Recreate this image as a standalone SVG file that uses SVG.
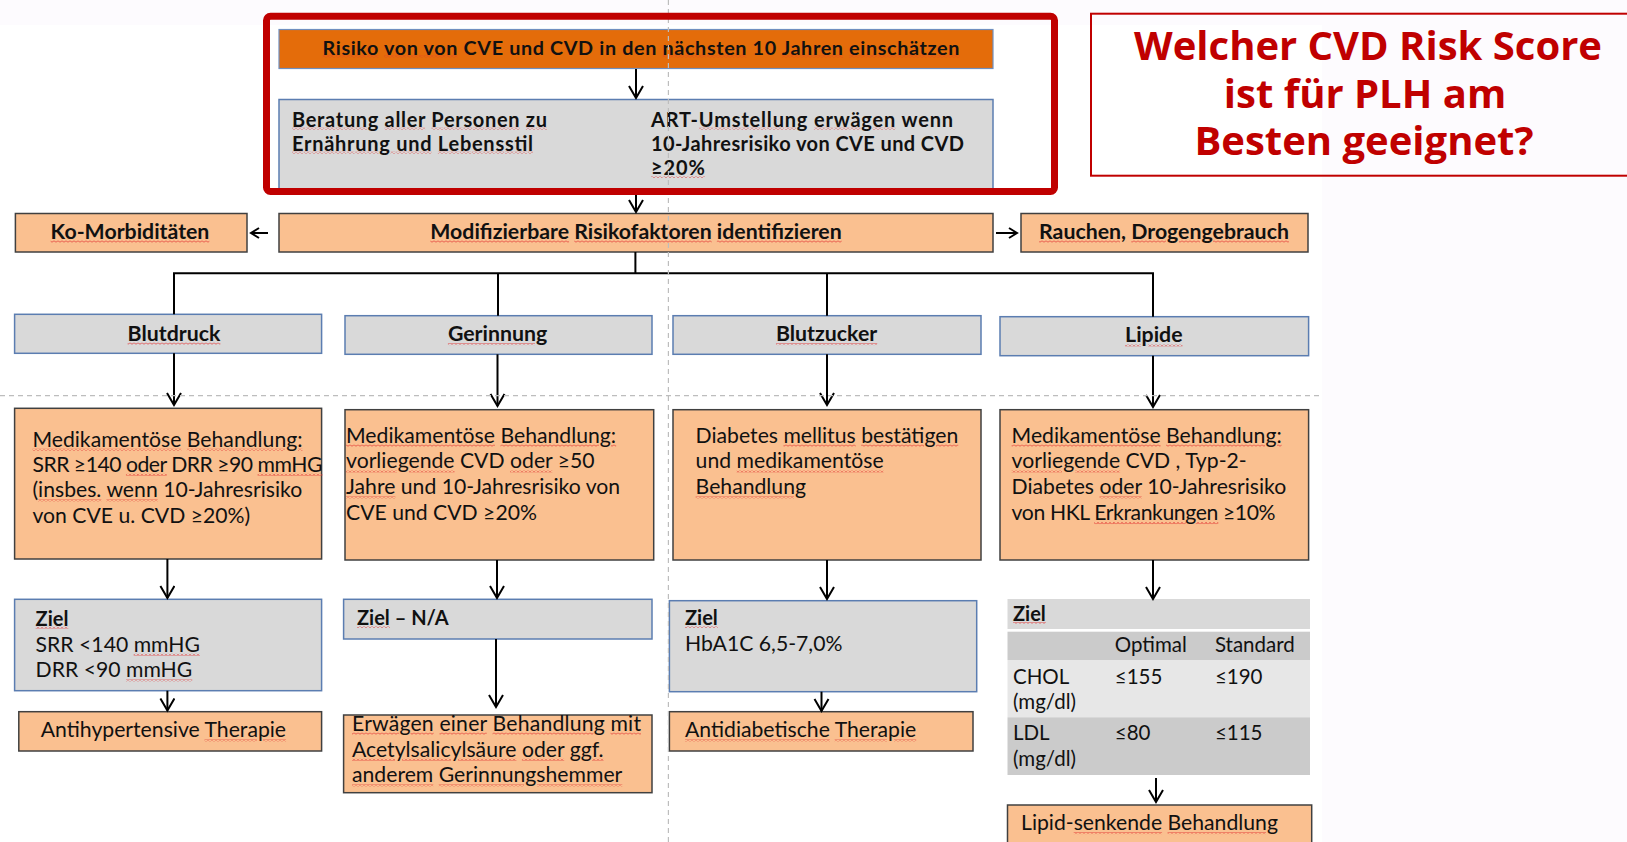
<svg xmlns="http://www.w3.org/2000/svg" width="1627" height="842" viewBox="0 0 1627 842">
<defs>
<pattern id="sq" patternUnits="userSpaceOnUse" width="4" height="3">
<path d="M0,2.6 L2,0.4 L4,2.6" stroke="#E23232" stroke-width="0.9" fill="none"/>
</pattern>
<style>
.t{font-family:Lato,"Liberation Sans",sans-serif;font-size:21.2px;fill:#111}
.tt{font-family:Lato,"Liberation Sans",sans-serif;font-size:20.5px;fill:#111}
.b{font-family:Lato,"Liberation Sans",sans-serif;font-weight:bold;fill:#111}
.h{font-family:"Open Sans","Noto Sans",sans-serif;font-weight:bold;font-size:40px;fill:#C00000}
.w{fill:url(#sq);text-decoration:underline;text-decoration-thickness:3px;text-underline-offset:2px}
.k{fill:#111}
.gray{fill:#D9D9D9;stroke:#5B7DB1;stroke-width:1.5}
.peach{fill:#FAC090;stroke:#404040;stroke-width:1.5}
.con line,.con path{stroke:#000;stroke-width:2;fill:none}
.dash{stroke:#BDBDBD;stroke-width:1.2;stroke-dasharray:5,4;fill:none}
</style>
<marker id="ah" markerUnits="userSpaceOnUse" markerWidth="18" markerHeight="18" refX="13" refY="8" orient="auto">
<path d="M1,1 L13,8 L1,15" stroke="#000" stroke-width="2" fill="none"/>
</marker>
<marker id="ahs" markerUnits="userSpaceOnUse" markerWidth="14" markerHeight="14" refX="9" refY="6" orient="auto">
<path d="M1,1 L9,6 L1,11" stroke="#000" stroke-width="2" fill="none"/>
</marker>
</defs>
<rect x="0" y="0" width="1627" height="842" fill="#FDFBFE"/>
<rect x="0" y="25" width="1322" height="817" fill="#FFFFFF"/>

<g id="n-risiko">
<rect x="279" y="29.5" width="714" height="39" fill="#E46C0A" stroke="#6F8FC0" stroke-width="1.2"/>
<text class="b" x="641" y="54.5" font-size="19.8" text-anchor="middle" textLength="637"><tspan class="w"><tspan class="k">Risiko</tspan></tspan> <tspan class="w"><tspan class="k">von von</tspan></tspan> CVE und CVD in den <tspan class="w"><tspan class="k">nächsten</tspan></tspan> 10 <tspan class="w"><tspan class="k">Jahren</tspan></tspan> <tspan class="w"><tspan class="k">einschätzen</tspan></tspan></text>
</g>

<g id="n-beratung">
<rect x="279" y="99.5" width="714" height="93" class="gray" stroke="#6F8FC0"/>
<text class="b" font-size="20" x="292" y="126.7" textLength="255"><tspan class="w"><tspan class="k">Beratung</tspan></tspan> <tspan class="w"><tspan class="k">aller</tspan></tspan> <tspan class="w"><tspan class="k">Personen</tspan></tspan> <tspan class="w"><tspan class="k">zu</tspan></tspan></text>
<text class="b" font-size="20" x="292" y="150.7" textLength="241"><tspan class="w"><tspan class="k">Ernährung und</tspan></tspan> <tspan class="w"><tspan class="k">Lebensstil</tspan></tspan></text>
<text class="b" font-size="20" x="651" y="126.7" textLength="302">ART-<tspan class="w"><tspan class="k">Umstellung</tspan></tspan> <tspan class="w"><tspan class="k">erwägen</tspan></tspan> wenn</text>
<text class="b" font-size="20" x="651" y="150.7" textLength="313">10-Jahresrisiko von CVE und CVD</text>
<text class="b" font-size="20" x="651" y="175" textLength="54"><tspan class="w"><tspan class="k">≥20%</tspan></tspan></text>
</g>

<g id="n-frage">
<rect x="1091" y="13.7" width="545" height="162" fill="none" stroke="#C00000" stroke-width="2"/>
<text class="h" text-anchor="middle" x="1368" y="60">Welcher CVD Risk Score</text>
<text class="h" text-anchor="middle" x="1365" y="107.7">ist für PLH am</text>
<text class="h" text-anchor="middle" x="1364" y="155">Besten geeignet?</text>
</g>

<g id="n-komorb">
<rect x="15.4" y="213.5" width="231.6" height="38.5" class="peach"/>
<text class="b" font-size="21.3" x="130" y="238.6" text-anchor="middle"><tspan class="w"><tspan class="k">Ko-Morbiditäten</tspan></tspan></text>
</g>
<g id="n-modif">
<rect x="279" y="213.5" width="714" height="38.5" class="peach"/>
<text class="b" font-size="21.3" x="636" y="238.6" text-anchor="middle"><tspan class="w"><tspan class="k">Modifizierbare</tspan></tspan> <tspan class="w"><tspan class="k">Risikofaktoren</tspan></tspan> <tspan class="w"><tspan class="k">identifizieren</tspan></tspan></text>
</g>
<g id="n-rauchen">
<rect x="1021" y="213.5" width="287" height="38.5" class="peach"/>
<text class="b" font-size="21.3" x="1164" y="238.6" text-anchor="middle"><tspan class="w"><tspan class="k">Rauchen,</tspan></tspan> <tspan class="w"><tspan class="k">Drogengebrauch</tspan></tspan></text>
</g>

<g id="n-blutdruck">
<rect x="14.6" y="314.3" width="307" height="39" class="gray"/>
<text class="b" font-size="21.3" x="174" y="340.7" text-anchor="middle"><tspan class="w"><tspan class="k">Blutdruck</tspan></tspan></text>
</g>
<g id="n-gerinnung">
<rect x="345" y="315.7" width="307" height="38.6" class="gray"/>
<text class="b" font-size="21.3" x="497.6" y="341" text-anchor="middle"><tspan class="w"><tspan class="k">Gerinnung</tspan></tspan></text>
</g>
<g id="n-blutzucker">
<rect x="673" y="315.7" width="308" height="38.6" class="gray"/>
<text class="b" font-size="21.3" x="826.6" y="341" text-anchor="middle"><tspan class="w"><tspan class="k">Blutzucker</tspan></tspan></text>
</g>
<g id="n-lipide">
<rect x="1000" y="316.7" width="308.6" height="39" class="gray"/>
<text class="b" font-size="21.3" x="1153.8" y="342.3" text-anchor="middle"><tspan class="w"><tspan class="k">Lipide</tspan></tspan></text>
</g>

<g id="n-bd-med">
<rect x="14.6" y="408.3" width="307" height="150.7" class="peach"/>
<text class="t" x="32.4" y="446.7"><tspan class="w"><tspan class="k">Medikamentöse</tspan></tspan> <tspan class="w"><tspan class="k">Behandlung:</tspan></tspan></text>
<text class="t" x="32.4" y="471.7" textLength="290">SRR ≥140 <tspan class="w"><tspan class="k">oder</tspan></tspan> DRR ≥90 <tspan class="w"><tspan class="k">mmHG</tspan></tspan></text>
<text class="t" x="32.4" y="497.3">(<tspan class="w"><tspan class="k">insbes.</tspan></tspan> <tspan class="w"><tspan class="k">wenn</tspan></tspan> 10-Jahresrisiko</text>
<text class="t" x="32.4" y="523.3">von CVE u. CVD ≥20%)</text>
</g>
<g id="n-ge-med">
<rect x="345" y="409.7" width="308.7" height="150.3" class="peach"/>
<text class="t" x="346" y="442.7"><tspan class="w"><tspan class="k">Medikamentöse</tspan></tspan> <tspan class="w"><tspan class="k">Behandlung:</tspan></tspan></text>
<text class="t" x="346" y="468.3"><tspan class="w"><tspan class="k">vorliegende</tspan></tspan> CVD <tspan class="w"><tspan class="k">oder</tspan></tspan> ≥50</text>
<text class="t" x="346" y="494.3"><tspan class="w"><tspan class="k">Jahre</tspan></tspan> und 10-Jahresrisiko von</text>
<text class="t" x="346" y="520">CVE und CVD ≥20%</text>
</g>
<g id="n-bz-med">
<rect x="673" y="409.7" width="308" height="150.3" class="peach"/>
<text class="t" x="695.6" y="442.7">Diabetes <tspan class="w"><tspan class="k">mellitus</tspan></tspan> <tspan class="w"><tspan class="k">bestätigen</tspan></tspan></text>
<text class="t" x="695.6" y="468.3">und <tspan class="w"><tspan class="k">medikamentöse</tspan></tspan></text>
<text class="t" x="695.6" y="494.3"><tspan class="w"><tspan class="k">Behandlung</tspan></tspan></text>
</g>
<g id="n-li-med">
<rect x="1000" y="409.7" width="308.6" height="150.3" class="peach"/>
<text class="t" x="1011.6" y="442.7"><tspan class="w"><tspan class="k">Medikamentöse</tspan></tspan> <tspan class="w"><tspan class="k">Behandlung:</tspan></tspan></text>
<text class="t" x="1011.6" y="468.3"><tspan class="w"><tspan class="k">vorliegende</tspan></tspan> CVD , Typ-2-</text>
<text class="t" x="1011.6" y="494.3">Diabetes <tspan class="w"><tspan class="k">oder</tspan></tspan> 10-Jahresrisiko</text>
<text class="t" x="1011.6" y="520" textLength="264">von HKL <tspan class="w"><tspan class="k">Erkrankungen</tspan></tspan> ≥10%</text>
</g>

<g id="n-bd-ziel">
<rect x="14.6" y="599.3" width="307" height="91.4" class="gray"/>
<text class="b" font-size="20" x="35.6" y="625.7"><tspan class="w"><tspan class="k">Ziel</tspan></tspan></text>
<text class="t" x="35.6" y="651.7">SRR &lt;140 <tspan class="w"><tspan class="k">mmHG</tspan></tspan></text>
<text class="t" x="35.6" y="677.3">DRR &lt;90 <tspan class="w"><tspan class="k">mmHG</tspan></tspan></text>
</g>
<g id="n-ge-ziel">
<rect x="343.6" y="599.3" width="308.4" height="39.7" class="gray"/>
<text class="b" font-size="20" x="357" y="625"><tspan class="w"><tspan class="k">Ziel</tspan></tspan> – N/A</text>
</g>
<g id="n-bz-ziel">
<rect x="669.4" y="600.7" width="307.3" height="91" class="gray"/>
<text class="b" font-size="20" x="685" y="625"><tspan class="w"><tspan class="k">Ziel</tspan></tspan></text>
<text class="t" x="685" y="650.7">HbA1C 6,5-7,0%</text>
</g>
<g id="n-li-ziel">
<rect x="1007.5" y="599" width="302.5" height="30" fill="#D9D9D9"/>
<rect x="1007.5" y="631.7" width="302.5" height="28.3" fill="#CBCBCB"/>
<rect x="1007.5" y="660" width="302.5" height="57.3" fill="#E7E7E7"/>
<rect x="1007.5" y="717.3" width="302.5" height="57.7" fill="#CBCBCB"/>
<text class="b" font-size="20" x="1013" y="621"><tspan class="w"><tspan class="k">Ziel</tspan></tspan></text>
<text class="tt" x="1114.8" y="651.7">Optimal</text>
<text class="tt" x="1214.9" y="651.7">Standard</text>
<text class="tt" x="1013" y="684">CHOL</text>
<text class="tt" x="1013" y="709.3">(mg/dl)</text>
<text class="tt" x="1114.8" y="684">≤155</text>
<text class="tt" x="1214.9" y="684">≤190</text>
<text class="tt" x="1013" y="740">LDL</text>
<text class="tt" x="1013" y="765.7">(mg/dl)</text>
<text class="tt" x="1114.8" y="740">≤80</text>
<text class="tt" x="1214.9" y="740">≤115</text>
</g>

<g id="n-antihyp">
<rect x="18.8" y="711.7" width="302.8" height="39.3" class="peach"/>
<text class="t" x="40.8" y="737.3">Antihypertensive <tspan class="w"><tspan class="k">Therapie</tspan></tspan></text>
</g>
<g id="n-erwaegen">
<rect x="343.6" y="715" width="308.4" height="77.7" class="peach"/>
<text class="t" x="352" y="730.7" textLength="289"><tspan class="w"><tspan class="k">Erwägen</tspan></tspan> <tspan class="w"><tspan class="k">einer</tspan></tspan> <tspan class="w"><tspan class="k">Behandlung</tspan></tspan> <tspan class="w"><tspan class="k">mit</tspan></tspan></text>
<text class="t" x="352" y="756.7"><tspan class="w"><tspan class="k">Acetylsalicylsäure</tspan></tspan> <tspan class="w"><tspan class="k">oder</tspan></tspan> <tspan class="w"><tspan class="k">ggf.</tspan></tspan></text>
<text class="t" x="352" y="782.3"><tspan class="w"><tspan class="k">anderem</tspan></tspan> <tspan class="w"><tspan class="k">Gerinnungshemmer</tspan></tspan></text>
</g>
<g id="n-antidiab">
<rect x="669.4" y="711.7" width="303.6" height="39.3" class="peach"/>
<text class="t" x="685" y="737.3"><tspan class="w"><tspan class="k">Antidiabetische</tspan></tspan> <tspan class="w"><tspan class="k">Therapie</tspan></tspan></text>
</g>
<g id="n-lipidsenk">
<rect x="1007.5" y="805" width="304.2" height="45" class="peach"/>
<text class="t" x="1021" y="830">Lipid-<tspan class="w"><tspan class="k">senkende</tspan></tspan> <tspan class="w"><tspan class="k">Behandlung</tspan></tspan></text>
</g>

<g id="connectors" class="con">
<line x1="636" y1="69" x2="636" y2="98" marker-end="url(#ah)"/>
<line x1="636" y1="195" x2="636" y2="212" marker-end="url(#ah)"/>
<line x1="268" y1="233" x2="251" y2="233" marker-end="url(#ahs)"/>
<line x1="996" y1="233" x2="1017" y2="233" marker-end="url(#ahs)"/>
<path d="M635.4,252 V273.3 M174,314.3 V273.3 H1153 V316.7 M498,273.3 V315.7 M827,273.3 V315.7"/>
<line x1="174" y1="353.3" x2="174" y2="405" marker-end="url(#ah)"/>
<line x1="497.5" y1="354.3" x2="497.5" y2="406" marker-end="url(#ah)"/>
<line x1="827" y1="354.3" x2="827" y2="405" marker-end="url(#ah)"/>
<line x1="1153" y1="355.7" x2="1153" y2="407" marker-end="url(#ah)"/>
<line x1="167.4" y1="559" x2="167.4" y2="598" marker-end="url(#ah)"/>
<line x1="497" y1="560" x2="497" y2="598" marker-end="url(#ah)"/>
<line x1="827" y1="560" x2="827" y2="599" marker-end="url(#ah)"/>
<line x1="1153" y1="560" x2="1153" y2="599" marker-end="url(#ah)"/>
<line x1="167.4" y1="690.7" x2="167.4" y2="710.5" marker-end="url(#ah)"/>
<line x1="496" y1="639" x2="496" y2="707" marker-end="url(#ah)"/>
<line x1="821.5" y1="691.7" x2="821.5" y2="711" marker-end="url(#ah)"/>
<line x1="1156" y1="778" x2="1156" y2="802" marker-end="url(#ah)"/>
</g>

<g id="guides">
<line class="dash" x1="668.4" y1="0" x2="668.4" y2="842"/>
<line class="dash" x1="0" y1="395.7" x2="1323" y2="395.7"/>
</g>

<g id="highlight">
<rect x="266.5" y="16.2" width="788" height="175.3" rx="4" fill="none" stroke="#C00000" stroke-width="7"/>
</g>
</svg>
